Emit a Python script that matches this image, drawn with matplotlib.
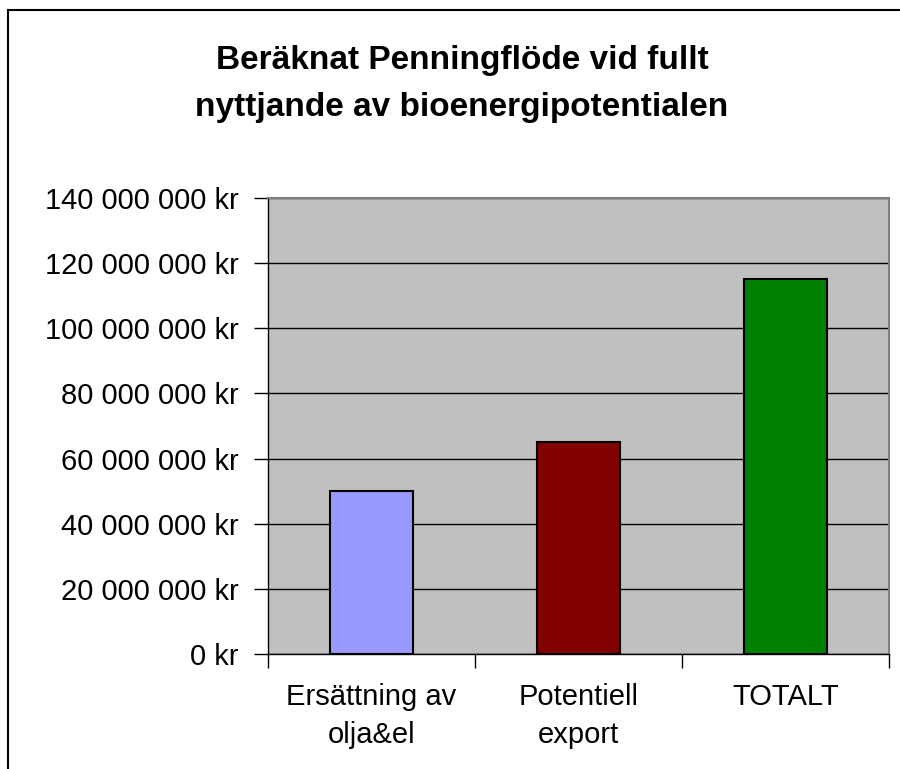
import matplotlib
matplotlib.use("Agg")
import matplotlib.pyplot as plt
from matplotlib.lines import Line2D
from matplotlib.ticker import FuncFormatter

categories = ["Ersättning av\nolja&el", "Potentiell\nexport", "TOTALT"]
values = [50_000_000, 65_000_000, 115_000_000]
colors = ["#9999FF", "#800000", "#008000"]
yticks = [0, 20_000_000, 40_000_000, 60_000_000, 80_000_000, 100_000_000, 120_000_000, 140_000_000]
title_lines = ["Beräknat Penningflöde vid fullt", "nyttjande av bioenergipotentialen"]

plt.rcParams['font.family'] = ['Liberation Sans', 'DejaVu Sans']

W, H = 900, 769
fig = plt.figure(figsize=(W / 100, H / 100), dpi=100)
fig.patch.set_facecolor("white")

ax = fig.add_axes([268 / W, 1 - 654 / H, (889 - 268) / W, (654 - 198) / H])
ax.set_facecolor("#C0C0C0")

x = list(range(len(categories)))
ax.bar(x, values, width=0.4, color=colors, edgecolor="black", linewidth=1.5, zorder=3)

ax.set_xlim(-0.5, len(categories) - 0.5)
ax.set_ylim(0, 140_000_000)
ax.set_yticks(yticks)
ax.yaxis.set_major_formatter(FuncFormatter(lambda v, p: f"{int(v):,}".replace(",", " ") + " kr"))
ax.grid(axis="y", color="black", linewidth=1.0, zorder=1)
ax.set_axisbelow(True)

ax.set_xticks([i - 0.5 for i in range(len(categories) + 1)])
ax.set_xticklabels([""] * (len(categories) + 1))
ax.set_xticks(x, minor=True)
ax.set_xticklabels(categories, minor=True, fontsize=21, linespacing=1.45)
ax.tick_params(axis="x", which="major", length=10, width=1, direction="out", color="black")
ax.tick_params(axis="x", which="minor", length=0, pad=21)
ax.tick_params(axis="y", length=10, width=1, direction="out", labelsize=21, pad=11)

for s in ["top", "right"]:
    ax.spines[s].set_color("#808080")
    ax.spines[s].set_linewidth(1.5)
for s in ["left", "bottom"]:
    ax.spines[s].set_color("black")
    ax.spines[s].set_linewidth(1.0)

fig.text(462 / W, 1 - 69 / H, title_lines[0], ha="center", va="baseline", fontsize=24, fontweight="bold")
fig.text(462 / W, 1 - 116 / H, title_lines[1], ha="center", va="baseline", fontsize=24, fontweight="bold")

fig.add_artist(Line2D([8 / W, 8 / W], [0, 1 - 10 / H], color="black", linewidth=1.5, transform=fig.transFigure))
fig.add_artist(Line2D([8 / W, 1], [1 - 10 / H, 1 - 10 / H], color="black", linewidth=1.5, transform=fig.transFigure))

fig.savefig("out.png", dpi=100)
